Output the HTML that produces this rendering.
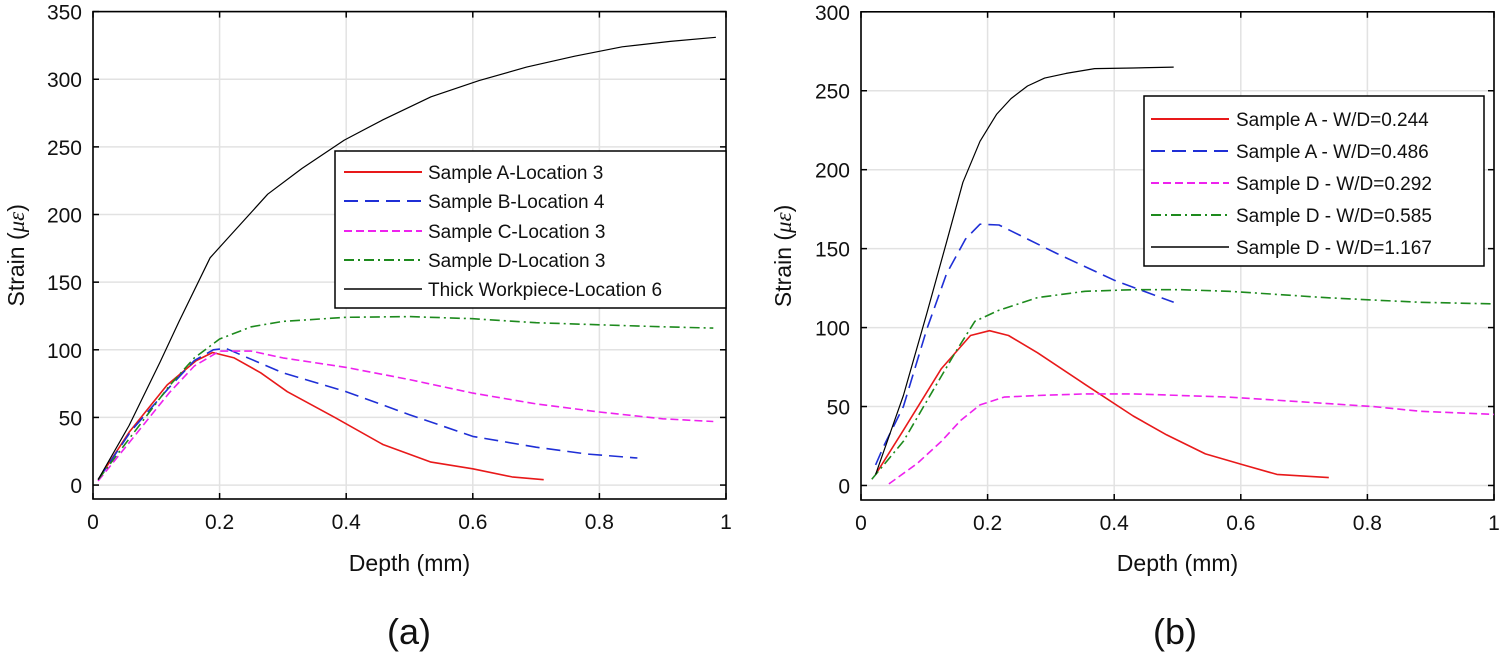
<!DOCTYPE html>
<html><head><meta charset="utf-8"><style>
body{margin:0;background:#fff}
svg{display:block;font-family:"Liberation Sans",sans-serif}
</style></head><body>
<svg id="svg" width="1499" height="659" viewBox="0 0 1499 659"></svg>
<script>
const xTicks=[0,0.2,0.4,0.6,0.8,1];
const xTickLabels=["0","0.2","0.4","0.6","0.8","1"];
const yTicksA=[0,50,100,150,200,250,300,350];
const yTicksB=[0,50,100,150,200,250,300];
// Panel (a)
const aNames=["Sample A-Location 3","Sample B-Location 4","Sample C-Location 3","Sample D-Location 3","Thick Workpiece-Location 6"];
const aAx=[0.008,0.057,0.117,0.163,0.189,0.223,0.265,0.307,0.382,0.458,0.534,0.6,0.662,0.712];
const aAy=[4,39,74,92,98,94,83,69,50,30,17,12,6,4];
const aBx=[0.008,0.06,0.12,0.16,0.19,0.21,0.25,0.3,0.4,0.5,0.6,0.7,0.78,0.86];
const aBy=[4,40,72,92,100,101,93,83,69,52,36,28,23,20];
const aCx=[0.008,0.06,0.12,0.16,0.2,0.25,0.3,0.4,0.5,0.6,0.7,0.8,0.9,0.98];
const aCy=[3,33,68,88,99,99,94,87,78,68,60,54,49,47];
const aDx=[0.008,0.06,0.12,0.16,0.2,0.25,0.3,0.4,0.5,0.6,0.7,0.8,0.9,0.98];
const aDy=[4,36,73,94,108,117,121,124,124.5,123,120,118.5,117,116];
const aEx=[0.008,0.057,0.106,0.136,0.185,0.212,0.276,0.33,0.397,0.458,0.534,0.61,0.685,0.761,0.836,0.912,0.984];
const aEy=[4,44,91,121,168,182,215,234,255,270,287,299,309,317,324,328,331];
// Panel (b)
const bNames=["Sample A - W/D=0.244","Sample A - W/D=0.486","Sample D - W/D=0.292","Sample D - W/D=0.585","Sample D - W/D=1.167"];
const bAx=[0.023,0.067,0.127,0.173,0.203,0.233,0.279,0.354,0.43,0.483,0.544,0.604,0.657,0.739];
const bAy=[7,35,74,95,98,95,84,64,44,32,20,13,7,5];
const bBx=[0.023,0.036,0.067,0.104,0.135,0.165,0.188,0.218,0.309,0.4,0.494];
const bBy=[13,25,50,99,134,156,165.5,165,147,130,116];
const bCx=[0.044,0.089,0.127,0.157,0.188,0.226,0.279,0.354,0.43,0.506,0.581,0.657,0.733,0.808,0.884,1];
const bCy=[1,14,28,41,51,56,57,58,58,57,56,54,52,50,47,45];
const bDx=[0.017,0.067,0.112,0.15,0.18,0.218,0.279,0.354,0.43,0.506,0.581,0.657,0.733,0.808,0.884,1];
const bDy=[4,28,59,85,104,111,119,123,124,124,123,121,119,117.5,116,115];
const bEx=[0.023,0.067,0.104,0.135,0.161,0.188,0.214,0.237,0.263,0.29,0.324,0.369,0.43,0.494];
const bEy=[7,57,109,154,192,218,235,245,253,258,261,264,264.4,265];

const NS="http://www.w3.org/2000/svg";
const svg=document.getElementById('svg');
function mk(tag,attrs,parent){const e=document.createElementNS(NS,tag);for(const k in attrs)e.setAttribute(k,attrs[k]);(parent||svg).appendChild(e);return e;}
const styles=[
 {stroke:"#e8191a",w:1.6,dash:""},
 {stroke:"#1f2fd6",w:1.6,dash:"14,7"},
 {stroke:"#ee22ee",w:1.6,dash:"8,4"},
 {stroke:"#1d8a1d",w:1.6,dash:"10,4,2,4"},
 {stroke:"#000",w:1.2,dash:""}];

function panel(id,L,R,T,B,ymin,ymax,yTicks,series,names,legend,ylabX,cx,letter){
  const g=mk('g',{});
  
  
  const sx=v=>L+(v-0)*(R-L)/1;
  const sy=v=>B-(v-ymin)*(B-T)/(ymax-ymin);
  xTicks.forEach((t,i)=>{
    const gl=mk('line',{x1:sx(t),x2:sx(t),y1:T,y2:B,stroke:"#e2e2e2","stroke-width":1.5},g);
    
    
  });
  yTicks.forEach(t=>{
    const gl=mk('line',{x1:L,x2:R,y1:sy(t),y2:sy(t),stroke:"#e2e2e2","stroke-width":1.5},g);
    
    
  });
  const ax=mk('rect',{x:L,y:T,width:R-L,height:B-T,fill:"none",stroke:"#000","stroke-width":1.6},g);
  
  
  xTicks.forEach((t,i)=>{
    mk('line',{x1:sx(t),x2:sx(t),y1:B,y2:B-6,stroke:"#000","stroke-width":1.5},g);
    mk('line',{x1:sx(t),x2:sx(t),y1:T,y2:T+6,stroke:"#000","stroke-width":1.5},g);
    const tx=mk('text',{x:sx(t),y:B+30,"font-size":21,"text-anchor":"middle",fill:"#111"},g);
    tx.textContent=xTickLabels[i];
    
    
  });
  yTicks.forEach(t=>{
    mk('line',{x1:L,x2:L+6,y1:sy(t),y2:sy(t),stroke:"#000","stroke-width":1.5},g);
    mk('line',{x1:R,x2:R-6,y1:sy(t),y2:sy(t),stroke:"#000","stroke-width":1.5},g);
    const tx=mk('text',{x:L-11,y:sy(t)+8,"font-size":21,"text-anchor":"end",fill:"#111"},g);
    tx.textContent=String(t);
    
    
  });
  series.forEach((s,i)=>{
    const d=s[0].map((x,j)=>(j?'L':'M')+sx(x).toFixed(1)+','+sy(s[1][j]).toFixed(1)).join(' ');
    const st=styles[i];
    const p=mk('path',{d:d,fill:"none",stroke:st.stroke,"stroke-width":st.w,"stroke-dasharray":st.dash,"stroke-linejoin":"round"},g);
    
    
  });
  const lg=mk('g',{},g);
  
  
  mk('rect',{x:legend.x,y:legend.y,width:legend.w,height:legend.h,fill:"#fff",stroke:"#000","stroke-width":1.5},lg);
  names.forEach((n,i)=>{
    const yy=legend.rows[i];
    const st=styles[i];
    mk('line',{x1:legend.lx1,x2:legend.lx2,y1:yy,y2:yy,stroke:st.stroke,"stroke-width":st.w+0.3,"stroke-dasharray":st.dash},lg);
    const tx=mk('text',{x:legend.tx,y:yy+7,"font-size":19,fill:"#111"},lg);
    tx.textContent=n;
    
    
  });
  const xt=mk('text',{x:(L+R)/2,y:571,"font-size":23,"text-anchor":"middle",fill:"#111"},g);
  xt.textContent="Depth (mm)";
  
  
  const yt=mk('text',{x:0,y:0,"font-size":23,"text-anchor":"middle",fill:"#111",transform:`translate(${ylabX},${(T+B)/2}) rotate(-90)`},g);
  yt.innerHTML='Strain (<tspan font-family="Liberation Serif" font-style="italic">με</tspan>)';
  
  
  const lt=mk('text',{x:cx,y:644,"font-size":36,"text-anchor":"middle",fill:"#111"},g);
  lt.textContent=letter;
  
  
}
panel('panel-a',93,726,11.6,499,-10.3,350,yTicksA,
  [[aAx,aAy],[aBx,aBy],[aCx,aCy],[aDx,aDy],[aEx,aEy]],aNames,
  {x:335,y:151,w:391,h:157,rows:[172,201,231,260,289],lx1:344,lx2:422,tx:428},
  24,409,"(a)");
panel('panel-b',861,1494,11.8,500,-9.2,300,yTicksB,
  [[bAx,bAy],[bBx,bBy],[bCx,bCy],[bDx,bDy],[bEx,bEy]],bNames,
  {x:1144,y:96,w:340,h:170,rows:[119,151,183,215,247],lx1:1151,lx2:1229,tx:1236},
  791,1175,"(b)");
</script>
</body></html>
